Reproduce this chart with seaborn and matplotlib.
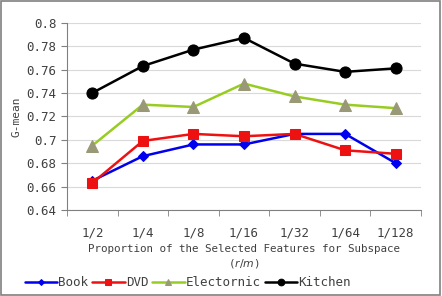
import numpy as np
import pandas as pd
import matplotlib
matplotlib.use('Agg')
import matplotlib.pyplot as plt
from matplotlib.ticker import FixedLocator
import seaborn as sns

categories = ['1/2', '1/4', '1/8', '1/16', '1/32', '1/64', '1/128']
book = [0.665, 0.686, 0.696, 0.696, 0.705, 0.705, 0.680]
dvd = [0.663, 0.699, 0.705, 0.703, 0.705, 0.691, 0.688]
electronic = [0.695, 0.730, 0.728, 0.748, 0.737, 0.730, 0.727]
kitchen = [0.740, 0.763, 0.777, 0.787, 0.765, 0.758, 0.761]
y_ticks = [0.64, 0.66, 0.68, 0.7, 0.72, 0.74, 0.76, 0.78, 0.8]
y_labels = ['0.64', '0.66', '0.68', '0.7', '0.72', '0.74', '0.76', '0.78', '0.8']

sns.set_style('white')
plt.rcParams['font.family'] = ['DejaVu Sans Mono']

series = {'Book': book, 'DVD': dvd, 'Electornic': electronic, 'Kitchen': kitchen}
df = pd.DataFrame([
    {'pos': i, 'cat': c, 'series': name, 'value': v}
    for name, vals in series.items()
    for i, (c, v) in enumerate(zip(categories, vals))
])

styles = {
    'Book': dict(color='#0000ee', marker='D', mfc='#0000ee', mec='#0000ee', ms=5),
    'DVD': dict(color='#ee1111', marker='s', mfc='#ee1111', mec='#ee1111', ms=7),
    'Electornic': dict(color='#99cc22', marker='^', mfc='#999977', mec='#999977', ms=8),
    'Kitchen': dict(color='black', marker='o', mfc='black', mec='black', ms=8),
}

fig = plt.figure(figsize=(4.42, 2.96), dpi=100)
ax = fig.add_axes([67 / 442, 1 - 210 / 296, (421 - 67) / 442, (210 - 22.7) / 296])

for name in series:
    st = styles[name]
    sub = df[df['series'] == name]
    sns.lineplot(data=sub, x='pos', y='value', ax=ax, color=st['color'], lw=1.8,
                 marker=st['marker'], markersize=st['ms'],
                 markerfacecolor=st['mfc'], markeredgecolor=st['mec'],
                 label=name)

ax.set_xlim(-0.5, len(categories) - 0.5)
ax.set_ylim(0.64, 0.8)
ax.set_yticks(y_ticks)
ax.set_yticklabels(y_labels)
ax.set_xticks(range(len(categories)))
ax.set_xticklabels(categories)
ax.xaxis.set_minor_locator(FixedLocator(np.arange(-0.5, len(categories), 1.0)))
ax.tick_params(axis='x', which='major', length=0, pad=12, labelsize=9, colors='#404040')
ax.tick_params(axis='x', which='minor', length=4, direction='out', color='#808080', bottom=True)
ax.tick_params(axis='y', length=4, direction='out', color='#808080', left=True,
               labelsize=9, colors='#404040')
ax.grid(axis='y', color='#d9d9d9', lw=0.8)
ax.set_axisbelow(True)
for side in ['top', 'right']:
    ax.spines[side].set_visible(False)
for side in ['left', 'bottom']:
    ax.spines[side].set_color('#808080')

ax.set_xlabel('Proportion of the Selected Features for Subspace\n($r/m$)',
              fontsize=7.8, color='#404040', labelpad=3, linespacing=1.3)
ax.set_ylabel('G-mean', fontsize=8, color='#404040', labelpad=4)

handles, labels = ax.get_legend_handles_labels()
ax.get_legend().remove()
fig.legend(handles, labels, loc='center', bbox_to_anchor=(0.425, 0.046), ncol=4,
           frameon=False, fontsize=9, handlelength=2.6, handletextpad=0.1,
           columnspacing=0.3, borderaxespad=0, labelcolor='#404040', markerscale=0.6)

fig.patches.append(plt.Rectangle((0.002, 0.004), 0.993, 0.991, transform=fig.transFigure,
                                 fill=False, edgecolor='#808080', lw=1.2))
fig.savefig('out.png', dpi=100)
